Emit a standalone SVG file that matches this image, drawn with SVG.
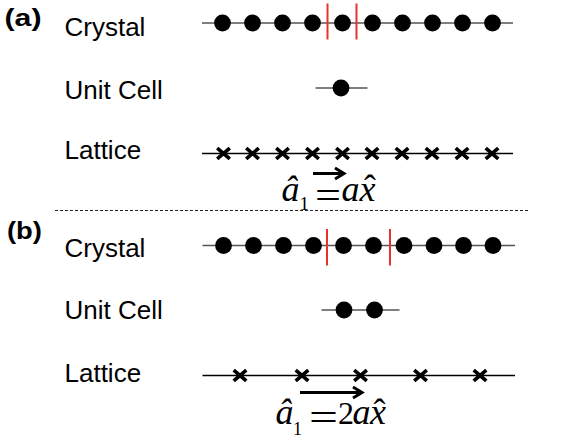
<svg xmlns="http://www.w3.org/2000/svg" width="575" height="436" viewBox="0 0 575 436">
<style>
.lbl{font-family:"Liberation Sans",Arial,sans-serif;font-size:26px;fill:#000}
.pl{font-family:"Liberation Sans",Arial,sans-serif;font-size:24px;font-weight:bold;fill:#000}
.it{font-family:"Liberation Serif","Times New Roman",serif;font-style:italic;font-size:36px;fill:#000}
.rm{font-family:"Liberation Serif","Times New Roman",serif;fill:#000}
.chain{stroke:#555;stroke-width:1.5;fill:none}
.latl{stroke:#000;stroke-width:1.5;fill:none}
.red{stroke:#e5322d;stroke-width:2}
.x{stroke:#000;stroke-width:3.6;fill:none}
.arr{stroke:#000;stroke-width:3;fill:none}
</style>
<defs>
<circle id="dot" r="8.4" fill="#000"/>
<path id="cross" class="x" d="M-6.3,-5.4 L6.3,5.4 M-6.3,5.4 L6.3,-5.4"/>
</defs>

<g id="panel-labels">
<text class="pl" x="4.5" y="25.5" textLength="37" lengthAdjust="spacingAndGlyphs">(a)</text>
<text class="pl" x="7" y="239" textLength="35" lengthAdjust="spacingAndGlyphs">(b)</text>
</g>

<g id="row-labels">
<text class="lbl" x="64.5" y="36">Crystal</text>
<text class="lbl" x="64.5" y="99">Unit Cell</text>
<text class="lbl" x="64.5" y="158.5">Lattice</text>
<text class="lbl" x="64.5" y="256.5">Crystal</text>
<text class="lbl" x="64.5" y="319">Unit Cell</text>
<text class="lbl" x="64.5" y="381.5">Lattice</text>
</g>

<g id="crystal-a">
<line class="chain" x1="202" y1="23" x2="513" y2="23"/>
<use href="#dot" x="222.5" y="23"/><use href="#dot" x="252.5" y="23"/><use href="#dot" x="282.5" y="23"/><use href="#dot" x="312.5" y="23"/><use href="#dot" x="342.5" y="23"/><use href="#dot" x="372.5" y="23"/><use href="#dot" x="402.5" y="23"/><use href="#dot" x="432.5" y="23"/><use href="#dot" x="462.5" y="23"/><use href="#dot" x="492.5" y="23"/>
<line class="red" x1="327.5" y1="3.5" x2="327.5" y2="39.5"/>
<line class="red" x1="356.5" y1="3.5" x2="356.5" y2="39.5"/>
</g>

<g id="unitcell-a">
<line class="chain" x1="315.5" y1="88" x2="367.5" y2="88"/>
<use href="#dot" x="341" y="88"/>
</g>

<g id="lattice-a">
<line class="latl" x1="202" y1="153.5" x2="513" y2="153.5"/>
<use href="#cross" x="223.5" y="153.5"/><use href="#cross" x="252.5" y="153.5"/><use href="#cross" x="282.5" y="153.5"/><use href="#cross" x="312.5" y="153.5"/><use href="#cross" x="342.5" y="153.5"/><use href="#cross" x="372" y="153.5"/><use href="#cross" x="402" y="153.5"/><use href="#cross" x="432" y="153.5"/><use href="#cross" x="462" y="153.5"/><use href="#cross" x="492" y="153.5"/>
</g>

<g id="formula-a">
<text class="it" x="281.5" y="201">â</text>
<text class="rm" x="299.5" y="209.5" font-size="19">1</text>
<text class="rm" x="315" y="209" font-size="40" textLength="26" lengthAdjust="spacingAndGlyphs">=</text>
<text class="it" x="341.5" y="201">a</text>
<text class="it" x="359.5" y="201">x</text>
<text class="rm" x="364" y="200" font-size="36">ˆ</text>
</g>

<line x1="55" y1="210.5" x2="528" y2="210.5" stroke="#222" stroke-width="1" stroke-dasharray="3,2"/>

<g id="crystal-b">
<line class="chain" x1="202.5" y1="245.5" x2="515" y2="245.5"/>
<use href="#dot" x="223.5" y="245.5"/><use href="#dot" x="253.5" y="245.5"/><use href="#dot" x="283.5" y="245.5"/><use href="#dot" x="313.5" y="245.5"/><use href="#dot" x="343.5" y="245.5"/><use href="#dot" x="373.5" y="245.5"/><use href="#dot" x="404" y="245.5"/><use href="#dot" x="434" y="245.5"/><use href="#dot" x="463.5" y="245.5"/><use href="#dot" x="493" y="245.5"/>
<line class="red" x1="327" y1="229" x2="327" y2="265.5"/>
<line class="red" x1="390" y1="229" x2="390" y2="265.5"/>
</g>

<g id="unitcell-b">
<line class="chain" x1="321.5" y1="310" x2="399.5" y2="310"/>
<use href="#dot" x="344" y="310"/><use href="#dot" x="374.5" y="310"/>
</g>

<g id="lattice-b">
<line class="latl" x1="202.5" y1="375.5" x2="515" y2="375.5"/>
<use href="#cross" x="240" y="375.5"/><use href="#cross" x="302" y="375.5"/><use href="#cross" x="360.5" y="375.5"/><use href="#cross" x="420.5" y="375.5"/><use href="#cross" x="480" y="375.5"/>
</g>

<g id="formula-b">
<text class="it" x="275.5" y="424.3">â</text>
<text class="rm" x="293" y="434.5" font-size="18">1</text>
<text class="rm" x="309" y="431" font-size="40" textLength="29" lengthAdjust="spacingAndGlyphs">=</text>
<text class="rm" x="338" y="424.3" font-size="31" textLength="16" lengthAdjust="spacingAndGlyphs">2</text>
<text class="it" x="352.5" y="424.3">a</text>
<text class="it" x="370" y="424.3">x</text>
<text class="rm" x="373.5" y="423.5" font-size="36">ˆ</text>
</g>

<g id="connectors">
<path class="arr" d="M313,173.5 H343 M335,168 L344,173.5 L335,179"/>
<path class="arr" d="M300,392.5 H361 M353,387 L362,392.5 L353,398"/>
</g>
</svg>
